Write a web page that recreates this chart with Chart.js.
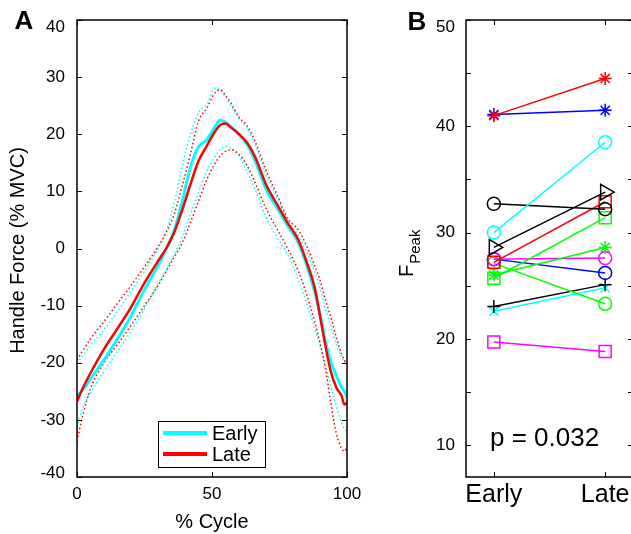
<!DOCTYPE html>
<html><head><meta charset="utf-8">
<script src="https://cdn.jsdelivr.net/npm/chart.js@4/dist/chart.umd.min.js"></script>
<style>
html,body{margin:0;padding:0;background:#fff;overflow:hidden;width:631px;height:534px;position:relative;}
#ca{position:absolute;left:0;top:0;}
#cb{position:absolute;left:380px;top:0;}
</style></head><body>
<canvas id="ca" width="362" height="534"></canvas>
<canvas id="cb" width="256" height="534"></canvas>
<script>
// ---------- Panel A data ----------
const cycleX     = [0,2,5,10,15,20,25,30,33,36,39,42,45,48,51,53,55,57,60,63,66,70,74,78,82,85,88,90,92,94,96,98,99,100];
const earlyMean  = [-25.8,-24.8,-22.8,-19.5,-15.8,-11.8,-7.2,-3.0,-0.2,3.2,8.3,14.2,17.8,19.0,21.2,22.5,22.1,21.3,20.0,18.2,15.3,10.4,7.2,4.0,1.0,-2.8,-7.5,-11.5,-16.2,-19.8,-22.2,-24.3,-25.0,-26.0];
const earlyUpper = [-20.1,-18.8,-17.0,-14.2,-11.0,-7.5,-4.0,0.0,3.0,8.0,14.5,20.0,23.8,25.2,28.0,27.8,26.5,25.0,22.8,21.0,18.2,13.0,9.0,5.0,2.2,-0.5,-4.0,-7.0,-10.5,-13.5,-16.5,-19.0,-19.8,-20.3];
const earlyLower = [-31.2,-28.0,-25.3,-21.5,-18.0,-14.5,-10.5,-6.2,-3.8,-1.0,2.0,6.0,9.8,13.5,16.0,17.3,17.9,17.6,16.2,13.5,10.3,5.5,2.0,-1.0,-5.5,-9.5,-14.0,-17.0,-20.3,-24.2,-27.5,-30.5,-31.5,-32.0];
const lateMean   = [-26.8,-24.6,-21.8,-17.6,-14.0,-10.3,-6.0,-2.2,0.0,2.8,6.8,11.2,15.3,17.9,20.4,21.6,21.9,21.2,20.0,18.5,16.0,11.2,7.8,4.5,1.5,-2.3,-6.8,-11.8,-17.0,-21.5,-24.3,-25.8,-27.3,-27.0];
const lateUpper  = [-19.5,-18.0,-15.8,-12.8,-9.6,-6.5,-3.2,0.3,2.8,6.0,11.0,16.5,22.3,24.5,27.2,27.8,26.8,25.5,23.0,21.5,18.7,13.7,9.5,5.3,3.2,0.5,-3.0,-5.5,-9.0,-12.0,-15.5,-18.5,-19.5,-20.3];
const lateLower  = [-33.7,-29.5,-24.5,-20.0,-16.8,-13.5,-10.0,-6.5,-4.0,-1.5,1.0,4.5,8.3,12.0,14.8,16.2,17.0,17.3,16.5,14.5,11.5,7.0,3.5,0.0,-4.0,-8.0,-12.8,-16.5,-21.0,-27.0,-32.3,-35.0,-35.5,-34.8];
const xTicksA = [0,50,100];
const yTicksA = [-40,-30,-20,-10,0,10,20,30,40];
const seriesNamesA = ['Early','Late'];

// ---------- Panel B data ----------
const groups     = ['Early','Late'];
const peakEarly  = [41.0,41.1,30.0,32.7,28.6,27.2,25.7,26.0,27.5,27.5,27.1,23.05,22.6,19.7];
const peakLate   = [44.5,41.5,38.5,32.2,33.8,32.9,31.4,28.6,27.6,26.2,23.3,25.1,24.8,18.8];
const yTicksB    = [10,15,20,25,30,35,40,45,50];
const yLabelsB   = [10,20,30,40,50];
const pText      = 'p = 0.032';

// ---------- styles ----------
const subjColor  = ['#ff0000','#0000ff','#00ffff','#000000','#000000','#ff0000','#00ff00','#00ff00','#ff00ff','#0000ff','#00ff00','#000000','#00ffff','#ff00ff'];
const subjMarker = ['star','star','circle','circle','triangle','rect','rect','star','circle','circle','circle','cross','crossRot','rect'];
const markerRadius = {star:6.5,circle:6.5,triangle:9,rect:8.5,cross:6.5,crossRot:6.5};
const FONT = "'Liberation Sans', Arial, Helvetica, sans-serif";
const CYAN = '#00ffff', RED = '#ff0000';

const pts = (xs, ys) => xs.map((x,i)=>({x:x, y:ys[i]}));

function framePlugin(cfg){
  return {
    id:'frame',
    afterDraw(chart){
      const ctx = chart.ctx, a = chart.chartArea, xs = chart.scales.x, ys = chart.scales.y;
      ctx.save();
      ctx.strokeStyle = '#000';
      ctx.lineWidth = 1;
      const tl = 5;
      const ln = (x1,y1,x2,y2)=>{ctx.beginPath();ctx.moveTo(x1,y1);ctx.lineTo(x2,y2);ctx.stroke();};
      cfg.yTicks.forEach(v=>{const p=Math.round(ys.getPixelForValue(v))+0.5; ln(a.left,p,a.left+tl,p); ln(a.right,p,a.right-tl,p);});
      cfg.xTicks.forEach(v=>{const p=Math.round(xs.getPixelForValue(v))+0.5; ln(p,a.bottom,p,a.bottom-tl); ln(p,a.top,p,a.top+tl);});
      ctx.lineWidth = 1.5;
      ctx.strokeRect(a.left, a.top, a.right-a.left, a.bottom-a.top);
      ctx.fillStyle = '#000';
      ctx.font = cfg.yFont + 'px ' + FONT;
      ctx.textAlign = 'right'; ctx.textBaseline = 'middle';
      cfg.yLabels.forEach(v=>{
        let p = ys.getPixelForValue(v);
        p = Math.max(p, a.top + 7); p = Math.min(p, a.bottom - 4);
        ctx.fillText(String(v), a.left - cfg.yGap, p);
      });
      cfg.extra(ctx, chart);
      ctx.restore();
    }
  };
}

// ---------- Panel A ----------
const dsA = [
  {label:'Late', data:pts(cycleX,lateMean), borderColor:RED, borderWidth:2.5},
  {label:'Early', data:pts(cycleX,earlyMean), borderColor:CYAN, borderWidth:3},
  {data:pts(cycleX,lateUpper), borderColor:RED, borderWidth:1.5, borderDash:[1.5,2.5]},
  {data:pts(cycleX,lateLower), borderColor:RED, borderWidth:1.5, borderDash:[1.5,2.5]},
  {data:pts(cycleX,earlyUpper), borderColor:CYAN, borderWidth:1.5, borderDash:[1.5,2.5]},
  {data:pts(cycleX,earlyLower), borderColor:CYAN, borderWidth:1.5, borderDash:[1.5,2.5]}
].map(d=>Object.assign({pointRadius:0, fill:false, cubicInterpolationMode:'monotone'}, d));

new Chart(document.getElementById('ca'), {
  type:'line',
  data:{datasets:dsA},
  options:{
    responsive:false, animation:false, events:[],
    layout:{autoPadding:false, padding:{top:20,right:15,left:0,bottom:0}},
    plugins:{legend:{display:false}, tooltip:{enabled:false}},
    scales:{
      x:{type:'linear', min:0, max:100,
         afterFit(s){s.height=57; s.paddingLeft=0; s.paddingRight=0;},
         afterBuildTicks(s){s.ticks = xTicksA.map(v=>({value:v}));},
         grid:{display:false, drawTicks:false}, border:{display:false},
         ticks:{font:{family:FONT,size:17}, color:'#000', padding:7, maxRotation:0, autoSkip:false}},
      y:{type:'linear', min:-40, max:40,
         afterFit(s){s.width=77; s.paddingTop=0; s.paddingBottom=0;},
         grid:{display:false, drawTicks:false}, border:{display:false},
         ticks:{display:false}}
    }
  },
  plugins:[framePlugin({
    xTicks:xTicksA, yTicks:yTicksA, yLabels:yTicksA, yFont:17, yGap:12,
    extra(ctx, chart){
      const a = chart.chartArea;
      ctx.textAlign='center'; ctx.textBaseline='middle';
      ctx.font = '20px ' + FONT;
      ctx.fillText('% Cycle', (a.left+a.right)/2, 522);
      ctx.save(); ctx.translate(18, (a.top+a.bottom)/2+2); ctx.rotate(-Math.PI/2);
      ctx.fillText('Handle Force (% MVC)', 0, 0); ctx.restore();
      ctx.font = 'bold 26px ' + FONT;
      ctx.fillText('A', 24, 22);
      // legend
      ctx.fillStyle='#fff'; ctx.fillRect(158.5,421.5,107,46);
      ctx.strokeStyle='#000'; ctx.lineWidth=1; ctx.strokeRect(158.5,421.5,107,46);
      const cols=[CYAN,RED], ly=[433,454];
      ctx.font = '20px ' + FONT; ctx.textAlign='left';
      seriesNamesA.forEach((n,i)=>{
        ctx.strokeStyle=cols[i]; ctx.lineWidth=4;
        ctx.beginPath(); ctx.moveTo(163,ly[i]); ctx.lineTo(207,ly[i]); ctx.stroke();
        ctx.fillStyle='#000'; ctx.fillText(n, 212, ly[i]+1);
      });
    }
  })]
});

// ---------- Panel B ----------
const dsB = peakEarly.map((e,i)=>({
  data:[{x:1,y:e},{x:2,y:peakLate[i]}],
  borderColor:subjColor[i], borderWidth:1.5,
  pointStyle:subjMarker[i], pointRadius:markerRadius[subjMarker[i]],
  pointRotation: subjMarker[i]==='triangle' ? 90 : 0,
  pointBorderColor:subjColor[i], pointBackgroundColor:'rgba(0,0,0,0)', pointBorderWidth:1.5,
  fill:false, tension:0, clip:false
}));

new Chart(document.getElementById('cb'), {
  type:'line',
  data:{datasets:dsB},
  options:{
    responsive:false, animation:false, events:[],
    layout:{autoPadding:false, padding:{top:20,right:3,left:0,bottom:0}},
    plugins:{legend:{display:false}, tooltip:{enabled:false}},
    scales:{
      x:{type:'linear', min:0.75, max:2.25,
         afterFit(s){s.height=57; s.paddingLeft=0; s.paddingRight=0;},
         afterBuildTicks(s){s.ticks = groups.map((g,i)=>({value:i+1}));},
         grid:{display:false, drawTicks:false}, border:{display:false},
         ticks:{font:{family:FONT,size:25}, color:'#000', padding:3, maxRotation:0, autoSkip:false,
                callback:(v,i)=>groups[i]}},
      y:{type:'linear', min:7, max:50,
         afterFit(s){s.width=86; s.paddingTop=0; s.paddingBottom=0;},
         grid:{display:false, drawTicks:false}, border:{display:false},
         ticks:{display:false}}
    }
  },
  plugins:[framePlugin({
    xTicks:[1,2], yTicks:yTicksB, yLabels:yLabelsB, yFont:17, yGap:11,
    extra(ctx, chart){
      ctx.fillStyle='#000';
      ctx.textAlign='center'; ctx.textBaseline='middle';
      ctx.font = 'bold 26px ' + FONT;
      ctx.fillText('B', 37, 23);
      ctx.textAlign='left'; ctx.textBaseline='alphabetic';
      ctx.font = '26px ' + FONT;
      ctx.fillText(pText, 110, 446);
      ctx.save(); ctx.translate(33, 277); ctx.rotate(-Math.PI/2);
      ctx.font = '20px ' + FONT; ctx.fillText('F', 0, 0);
      const w = ctx.measureText('F').width;
      ctx.font = '15px ' + FONT; ctx.fillText('Peak', w+1, 7);
      ctx.restore();
    }
  })]
});
</script>
</body></html>
